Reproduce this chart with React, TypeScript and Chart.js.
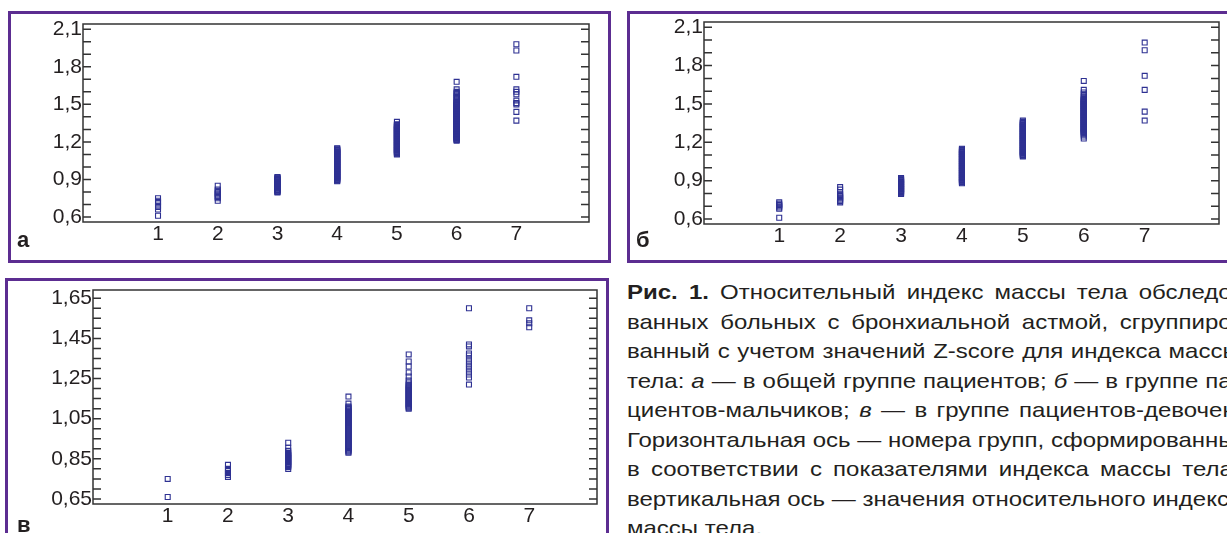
import React, { useEffect, useRef } from 'react';
import { Chart, registerables } from 'chart.js';

Chart.register(...registerables);

// ---------- data ----------
const groupNumbers = [1, 2, 3, 4, 5, 6, 7];
const xTickLabels = ['1', '2', '3', '4', '5', '6', '7'];
const yTickLabelsAB = ['0,6', '0,9', '1,2', '1,5', '1,8', '2,1'];
const yTickLabelsC = ['0,65', '0,85', '1,05', '1,25', '1,45', '1,65'];

// Panel а — all patients
const aG1 = [0.61, 0.66, 0.68, 0.69, 0.71, 0.72, 0.73, 0.75];
const aG2 = [0.73, 0.75, 0.76, 0.77, 0.78, 0.79, 0.8, 0.81, 0.82, 0.85];
const aG3 = [0.795, 0.8, 0.805, 0.81, 0.815, 0.82, 0.825, 0.83, 0.835, 0.84, 0.845, 0.85, 0.855, 0.86, 0.865, 0.87, 0.875, 0.88, 0.885, 0.89, 0.895, 0.9, 0.905, 0.91, 0.915, 0.92];
const aG4 = [0.885, 0.89, 0.895, 0.9, 0.905, 0.91, 0.915, 0.92, 0.925, 0.93, 0.935, 0.94, 0.945, 0.95, 0.955, 0.96, 0.965, 0.97, 0.975, 0.98, 0.985, 0.99, 0.995, 1.0, 1.005, 1.01, 1.015, 1.02, 1.025, 1.03, 1.035, 1.04, 1.045, 1.05, 1.055, 1.06, 1.065, 1.07, 1.075, 1.08, 1.085, 1.09, 1.095, 1.1, 1.105, 1.11, 1.115, 1.12, 1.125, 1.13, 1.135, 1.14, 1.145, 1.15];
const aG5 = [1.1, 1.105, 1.11, 1.115, 1.12, 1.125, 1.13, 1.135, 1.14, 1.145, 1.15, 1.155, 1.16, 1.165, 1.17, 1.175, 1.18, 1.185, 1.19, 1.195, 1.2, 1.205, 1.21, 1.215, 1.22, 1.225, 1.23, 1.235, 1.24, 1.245, 1.25, 1.255, 1.26, 1.265, 1.27, 1.275, 1.28, 1.285, 1.29, 1.295, 1.3, 1.305, 1.31, 1.315, 1.32, 1.325, 1.33, 1.335, 1.34, 1.36];
const aG6 = [1.21, 1.215, 1.22, 1.225, 1.23, 1.235, 1.24, 1.245, 1.25, 1.255, 1.26, 1.265, 1.27, 1.275, 1.28, 1.285, 1.29, 1.295, 1.3, 1.305, 1.31, 1.315, 1.32, 1.325, 1.33, 1.335, 1.34, 1.345, 1.35, 1.355, 1.36, 1.365, 1.37, 1.375, 1.38, 1.385, 1.39, 1.395, 1.4, 1.405, 1.41, 1.415, 1.42, 1.425, 1.43, 1.435, 1.44, 1.445, 1.45, 1.455, 1.46, 1.465, 1.47, 1.475, 1.48, 1.485, 1.49, 1.495, 1.5, 1.505, 1.51, 1.515, 1.52, 1.53, 1.54, 1.55, 1.56, 1.57, 1.58, 1.59, 1.6, 1.62, 1.68];
const aG7 = [1.37, 1.44, 1.5, 1.51, 1.53, 1.58, 1.6, 1.62, 1.72, 1.93, 1.98];

// Panel б — boys
const bG1 = [0.61, 0.68, 0.69, 0.7, 0.71, 0.72, 0.73];
const bG2 = [0.73, 0.74, 0.75, 0.76, 0.77, 0.78, 0.79, 0.8, 0.83, 0.85];
const bG3 = [0.795, 0.8, 0.805, 0.81, 0.815, 0.82, 0.825, 0.83, 0.835, 0.84, 0.845, 0.85, 0.855, 0.86, 0.865, 0.87, 0.875, 0.88, 0.885, 0.89, 0.895, 0.9, 0.905, 0.91, 0.915, 0.92];
const bG4 = [0.88, 0.885, 0.89, 0.895, 0.9, 0.905, 0.91, 0.915, 0.92, 0.925, 0.93, 0.935, 0.94, 0.945, 0.95, 0.955, 0.96, 0.965, 0.97, 0.975, 0.98, 0.985, 0.99, 0.995, 1.0, 1.005, 1.01, 1.015, 1.02, 1.025, 1.03, 1.035, 1.04, 1.045, 1.05, 1.055, 1.06, 1.065, 1.07, 1.075, 1.08, 1.085, 1.09, 1.095, 1.1, 1.105, 1.11, 1.115, 1.12, 1.125, 1.13, 1.135, 1.14, 1.145, 1.15];
const bG5 = [1.09, 1.095, 1.1, 1.105, 1.11, 1.115, 1.12, 1.125, 1.13, 1.135, 1.14, 1.145, 1.15, 1.155, 1.16, 1.165, 1.17, 1.175, 1.18, 1.185, 1.19, 1.195, 1.2, 1.205, 1.21, 1.215, 1.22, 1.225, 1.23, 1.235, 1.24, 1.245, 1.25, 1.255, 1.26, 1.265, 1.27, 1.275, 1.28, 1.285, 1.29, 1.295, 1.3, 1.305, 1.31, 1.315, 1.32, 1.325, 1.33, 1.335, 1.34, 1.345, 1.35, 1.355, 1.36, 1.37];
const bG6 = [1.23, 1.245, 1.26, 1.27, 1.275, 1.28, 1.285, 1.29, 1.295, 1.3, 1.305, 1.31, 1.315, 1.32, 1.325, 1.33, 1.335, 1.34, 1.345, 1.35, 1.355, 1.36, 1.365, 1.37, 1.375, 1.38, 1.385, 1.39, 1.395, 1.4, 1.405, 1.41, 1.415, 1.42, 1.425, 1.43, 1.435, 1.44, 1.445, 1.45, 1.455, 1.46, 1.465, 1.47, 1.475, 1.48, 1.485, 1.49, 1.495, 1.5, 1.505, 1.51, 1.515, 1.52, 1.525, 1.53, 1.535, 1.54, 1.55, 1.56, 1.575, 1.59, 1.61, 1.68];
const bG7 = [1.37, 1.44, 1.61, 1.72, 1.92, 1.98];

// Panel в — girls
const cG1 = [0.66, 0.75];
const cG2 = [0.76, 0.77, 0.78, 0.79, 0.8, 0.82];
const cG3 = [0.8, 0.81, 0.815, 0.82, 0.825, 0.83, 0.835, 0.84, 0.845, 0.85, 0.855, 0.86, 0.865, 0.87, 0.875, 0.88, 0.89, 0.905, 0.93];
const cG4 = [0.88, 0.885, 0.89, 0.895, 0.9, 0.905, 0.91, 0.915, 0.92, 0.925, 0.93, 0.935, 0.94, 0.945, 0.95, 0.955, 0.96, 0.965, 0.97, 0.975, 0.98, 0.985, 0.99, 0.995, 1.0, 1.005, 1.01, 1.015, 1.02, 1.025, 1.03, 1.035, 1.04, 1.045, 1.05, 1.055, 1.06, 1.065, 1.07, 1.075, 1.08, 1.085, 1.09, 1.095, 1.1, 1.105, 1.11, 1.125, 1.16];
const cG5 = [1.1, 1.105, 1.11, 1.115, 1.12, 1.125, 1.13, 1.135, 1.14, 1.145, 1.15, 1.155, 1.16, 1.165, 1.17, 1.175, 1.18, 1.185, 1.19, 1.195, 1.2, 1.205, 1.21, 1.215, 1.22, 1.23, 1.24, 1.26, 1.28, 1.31, 1.335, 1.37];
const cG6 = [1.22, 1.255, 1.27, 1.285, 1.3, 1.31, 1.32, 1.335, 1.35, 1.365, 1.375, 1.41, 1.42, 1.6];
const cG7 = [1.505, 1.525, 1.54, 1.6];

// ---------- styles ----------
const MARKER = '#2e3192';
const FRAME = '#333333';
const PURPLE = '#5c2d91';
const TEXT = '#231f20';
const FONT = "'Liberation Sans', Arial, Helvetica, sans-serif";

type PanelSpec = {
  key: string;
  groups: number[][];
  yMin: number;
  yMax: number;
  yStep: number;
  yDigits: number;
  yLabels: string[];
  xMin: number;
  xMax: number;
  plot: { L: number; T: number; R: number; B: number };
};

const panelSpecs: PanelSpec[] = [
  {
    key: 'a',
    groups: [aG1, aG2, aG3, aG4, aG5, aG6, aG7],
    yMin: 0.56, yMax: 2.142, yStep: 0.1, yDigits: 1, yLabels: yTickLabelsAB,
    xMin: -0.256, xMax: 8.216,
    plot: { L: 83, T: 24, R: 589, B: 222 },
  },
  {
    key: 'b',
    groups: [bG1, bG2, bG3, bG4, bG5, bG6, bG7],
    yMin: 0.561, yMax: 2.141, yStep: 0.1, yDigits: 1, yLabels: yTickLabelsAB,
    xMin: -0.235, xMax: 8.22,
    plot: { L: 704, T: 22, R: 1219, B: 224 },
  },
  {
    key: 'c',
    groups: [cG1, cG2, cG3, cG4, cG5, cG6, cG7],
    yMin: 0.625, yMax: 1.691, yStep: 0.05, yDigits: 2, yLabels: yTickLabelsC,
    xMin: -0.24, xMax: 8.125,
    plot: { L: 93, T: 290, R: 597, B: 504 },
  },
];

const PAD_L = 80;
const PAD_T = 16;
const PAD_R = 12;
const PAD_B = 30;

const frameTicksPlugin = {
  id: 'frameTicks',
  afterDatasetsDraw(chart: any) {
    const { ctx, chartArea } = chart;
    const { left, top, right, bottom } = chartArea;
    const ys = chart.scales.y;
    ctx.save();
    ctx.strokeStyle = FRAME;
    ctx.lineWidth = 1.5;
    ctx.beginPath();
    ys.ticks.forEach((t: any) => {
      const py = ys.getPixelForValue(t.value);
      ctx.moveTo(left, py);
      ctx.lineTo(left + 8, py);
      ctx.moveTo(right, py);
      ctx.lineTo(right - 8, py);
    });
    ctx.stroke();
    ctx.strokeRect(left, top, right - left, bottom - top);
    ctx.restore();
  },
};

function ScatterPanel({ spec }: { spec: PanelSpec }) {
  const ref = useRef<HTMLCanvasElement>(null);
  const w = spec.plot.R - spec.plot.L + PAD_L + PAD_R;
  const h = spec.plot.B - spec.plot.T + PAD_T + PAD_B;

  useEffect(() => {
    const canvas = ref.current;
    if (!canvas) return;
    const points = spec.groups.flatMap((vals, i) =>
      vals.map((v) => ({ x: groupNumbers[i], y: v }))
    );
    const tickFont = { family: FONT, size: 21 };
    const chart = new Chart(canvas, {
      type: 'scatter',
      data: {
        datasets: [
          {
            data: points,
            pointStyle: 'rect',
            pointRadius: 3.5,
            pointBorderWidth: 1.1,
            pointBorderColor: MARKER,
            pointBackgroundColor: 'rgba(255,255,255,0)',
            showLine: false,
          } as any,
        ],
      },
      options: {
        responsive: false,
        animation: false,
        events: [],
        layout: { padding: { left: 0, top: PAD_T, right: PAD_R, bottom: 0 } },
        plugins: { legend: { display: false }, tooltip: { enabled: false } },
        scales: {
          x: {
            type: 'linear',
            min: spec.xMin,
            max: spec.xMax,
            border: { display: false },
            grid: { display: false, drawTicks: false },
            ticks: {
              stepSize: 1,
              autoSkip: false,
              maxRotation: 0,
              includeBounds: false,
              padding: 0,
              color: TEXT,
              font: tickFont,
              callback: (v: any) => {
                const s = String(Math.round(Number(v)));
                return xTickLabels.includes(s) && Math.abs(Number(v) - Math.round(Number(v))) < 1e-6 ? s : '';
              },
            },
            afterFit: (s: any) => {
              s.height = PAD_B;
            },
          },
          y: {
            type: 'linear',
            min: spec.yMin,
            max: spec.yMax,
            border: { display: false },
            grid: { display: false, drawTicks: false },
            ticks: {
              stepSize: spec.yStep,
              autoSkip: false,
              includeBounds: false,
              padding: 1,
              color: TEXT,
              font: tickFont,
              callback: (v: any) => {
                const s = Number(v).toFixed(spec.yDigits).replace('.', ',');
                return spec.yLabels.includes(s) ? s : '';
              },
            },
            afterFit: (s: any) => {
              s.width = PAD_L;
            },
          },
        },
      },
      plugins: [frameTicksPlugin],
    });
    return () => chart.destroy();
  }, [spec]);

  return (
    <canvas
      ref={ref}
      width={w}
      height={h}
      style={{
        position: 'absolute',
        left: spec.plot.L - PAD_L,
        top: spec.plot.T - PAD_T,
        width: w,
        height: h,
      }}
    />
  );
}

const panelBox = (left: number, top: number, width: number, height: number): React.CSSProperties => ({
  position: 'absolute',
  left,
  top,
  width,
  height,
  boxSizing: 'border-box',
  border: `3px solid ${PURPLE}`,
});

const panelLabel = (left: number, top: number): React.CSSProperties => ({
  position: 'absolute',
  left,
  top,
  fontFamily: FONT,
  fontWeight: 'bold',
  fontSize: 22,
  lineHeight: '22px',
  color: TEXT,
});

const CAPTION_SCALE = 1.143;
const CAPTION_WIDTH = 536;
const LINE_STEP = 29.5;
const captionLine = (i: number): React.CSSProperties => ({
  position: 'absolute',
  left: 0,
  top: i * LINE_STEP,
  width: CAPTION_WIDTH,
  height: 29,
  lineHeight: '29px',
  whiteSpace: 'nowrap',
  textAlign: 'justify',
  textAlignLast: 'justify',
});

export default function App() {
  return (
    <div
      style={{
        position: 'absolute',
        left: 0,
        top: 0,
        width: 1227,
        height: 533,
        overflow: 'hidden',
        background: '#ffffff',
      }}
    >
      <div style={panelBox(8, 11, 603, 252)} />
      <div style={panelBox(627, 11, 700, 252)} />
      <div style={panelBox(5, 278, 604, 300)} />

      {panelSpecs.map((s) => (
        <ScatterPanel key={s.key} spec={s} />
      ))}

      <div style={panelLabel(17, 229)}>а</div>
      <div style={panelLabel(636, 229)}>б</div>
      <div style={panelLabel(17, 514)}>в</div>

      <div
        style={{
          position: 'absolute',
          left: 627,
          top: 277,
          width: CAPTION_WIDTH,
          fontFamily: FONT,
          fontSize: 21,
          color: TEXT,
          transform: `scaleX(${CAPTION_SCALE})`,
          transformOrigin: 'left top',
        }}
      >
        <div style={captionLine(0)}>
          <b>Рис. 1.</b> Относительный индекс массы тела обследо-
        </div>
        <div style={captionLine(1)}>ванных больных с бронхиальной астмой, сгруппиро-</div>
        <div style={captionLine(2)}>ванный с учетом значений Z-score для индекса массы</div>
        <div style={captionLine(3)}>
          тела: <i>а</i> — в общей группе пациентов; <i>б</i> — в группе па-
        </div>
        <div style={captionLine(4)}>
          циентов-мальчиков; <i>в</i> — в группе пациентов-девочек.
        </div>
        <div style={captionLine(5)}>Горизонтальная ось — номера групп, сформированных</div>
        <div style={captionLine(6)}>в соответствии с показателями индекса массы тела;</div>
        <div style={captionLine(7)}>вертикальная ось — значения относительного индекса</div>
        <div style={{ ...captionLine(8), textAlign: 'left', textAlignLast: 'left' }}>массы тела.</div>
      </div>
    </div>
  );
}
